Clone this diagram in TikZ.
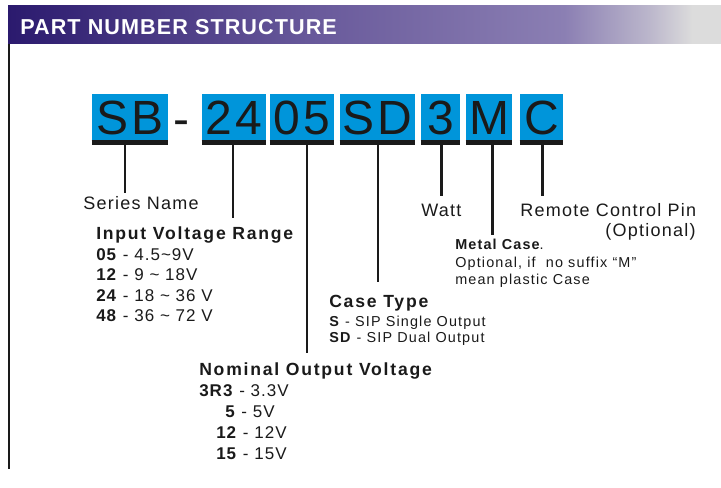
\documentclass[tikz,border=0pt]{standalone}
\usepackage{fontspec}
\setmainfont{Liberation Sans}
\usetikzlibrary{calc}
\definecolor{pnblue}{HTML}{0095DA}
\definecolor{pnink}{HTML}{1A1A1A}
\definecolor{hdrdark}{HTML}{2B1A6E}
\definecolor{hdrmid}{HTML}{6A5B9C}
\definecolor{hdrlight}{HTML}{8B7FB3}
\definecolor{hdrgrey}{HTML}{DCDCDC}
\pgfdeclarehorizontalshading{hdrshade}{100bp}{
  color(0bp)=(hdrdark); color(25bp)=(hdrdark); color(47bp)=(hdrmid);
  color(64bp)=(hdrlight); color(70bp)=(hdrgrey!60!hdrlight);
  color(73bp)=(hdrgrey); color(100bp)=(hdrgrey)}
\newcommand{\pxu}{0.75pt}

\begin{document}
\begin{tikzpicture}[
    x=0.75pt, y=-0.75pt,
    pnbox/.style={fill=pnblue, text=pnink, inner sep=0pt, minimum height=48*\pxu,
        font=\fontsize{36}{36}\selectfont\addfontfeature{LetterSpace=6}},
    pnbar/.style={line width=4pt, pnink, yshift=-2pt},
    pnline/.style={line width=1.9pt, pnink},
    lbl/.style={anchor=base west, inner sep=0pt, text=pnink,
        font=\fontsize{13.5}{16}\selectfont\addfontfeature{LetterSpace=7}},
    lblhead/.style={lbl, font=\fontsize{13.2}{15}\bfseries\addfontfeature{LetterSpace=10}},
    lblsmall/.style={lbl, font=\fontsize{10.8}{12}\selectfont\addfontfeature{LetterSpace=8}},
    lblitem/.style={lbl, font=\fontsize{12.75}{15}\selectfont\addfontfeature{LetterSpace=6}}
]
\useasboundingbox (0,0) rectangle (721,488);

% header band
\shade[shading=hdrshade] (8,6) rectangle (721,44);
\node[anchor=base west, inner sep=0pt, text=white,
      font=\fontsize{16.2}{18}\bfseries\addfontfeature{LetterSpace=5}] (title) at (20,35) {PART NUMBER STRUCTURE};
\draw[line width=1.5pt, pnink] (8.5,44) -- (8.5,469);

% part number boxes
\node[pnbox, minimum width=76*\pxu] (sb) at (130,118) {SB};
\node[anchor=base, inner sep=0pt, text=pnink, font=\fontsize{36}{36}\selectfont] (dash) at (181.5,136) {-};
\node[pnbox, minimum width=64*\pxu] (vin) at (234,118) {24};
\node[pnbox, minimum width=64*\pxu] (vout) at (302,118) {05};
\node[pnbox, minimum width=75*\pxu] (ctype) at (377.5,118) {SD};
\node[pnbox, minimum width=39*\pxu] (watt) at (440.5,118) {3};
\node[pnbox, minimum width=46*\pxu] (mcase) at (489,118) {M};
\node[pnbox, minimum width=43*\pxu] (rpin) at (541.5,118) {C};

\foreach \b in {sb, vin, vout, ctype, watt, mcase, rpin}
    \draw[pnbar] (\b.south west) -- (\b.south east);

% connector ends
\coordinate (sbEnd) at (125,193);
\coordinate (vinEnd) at (233,218);
\coordinate (voutEnd) at (307,353);
\coordinate (ctypeEnd) at (378,282);
\coordinate (wattEnd) at (441.7,196);
\coordinate (mcaseEnd) at (492.7,235);
\coordinate (rpinEnd) at (542.7,196);

\foreach \b in {sb, vin, vout, ctype, watt, mcase, rpin}
    \draw[pnline] (\b.south -| \b End) -- (\b End);

% labels
\node[lbl] (seriesName) at (83,210) {Series Name};

\node[lblhead] (vinHead) at (96,240) {Input Voltage Range};
\node[lblitem] (vin1) at (96,261) {\textbf{05} - 4.5\char"7E 9V};
\node[lblitem] (vin2) at (96,281) {\textbf{12} - 9 \char"7E{} 18V};
\node[lblitem] (vin3) at (96,301) {\textbf{24} - 18 \char"7E{} 36 V};
\node[lblitem] (vin4) at (96,321) {\textbf{48} - 36 \char"7E{} 72 V};

\node[lblhead] (ctypeHead) at (329,307.7) {Case Type};
\node[lblsmall] (ctype1) at (329,326) {\textbf{S} - SIP Single Output};
\node[lblsmall] (ctype2) at (329,343) {\textbf{SD} - SIP Dual Output};

\node[lblhead] (voutHead) at (199,375) {Nominal Output Voltage};
\node[lblitem] (vout1) at (199,396) {\textbf{3R3} - 3.3V};
\node[lblitem] (vout2) at (225,417) {\textbf{5} - 5V};
\node[lblitem] (vout3) at (216,438) {\textbf{12} - 12V};
\node[lblitem] (vout4) at (216,459) {\textbf{15} - 15V};

\node[lbl] (wattLbl) at (421,216.7) {Watt};

\node[lbl] (rpinLbl) at (520,216.7) {Remote Control Pin};
\node[lbl, anchor=base east] (rpinOpt) at (696,237) {(Optional)};

\node[lblsmall] (mcase1) at (455,250) {\textbf{Metal Case}.};
\node[lblsmall] (mcase2) at (455,268) {Optional, if\ \ no suffix “M”};
\node[lblsmall] (mcase3) at (455,285) {mean plastic Case};

\end{tikzpicture}
\end{document}
